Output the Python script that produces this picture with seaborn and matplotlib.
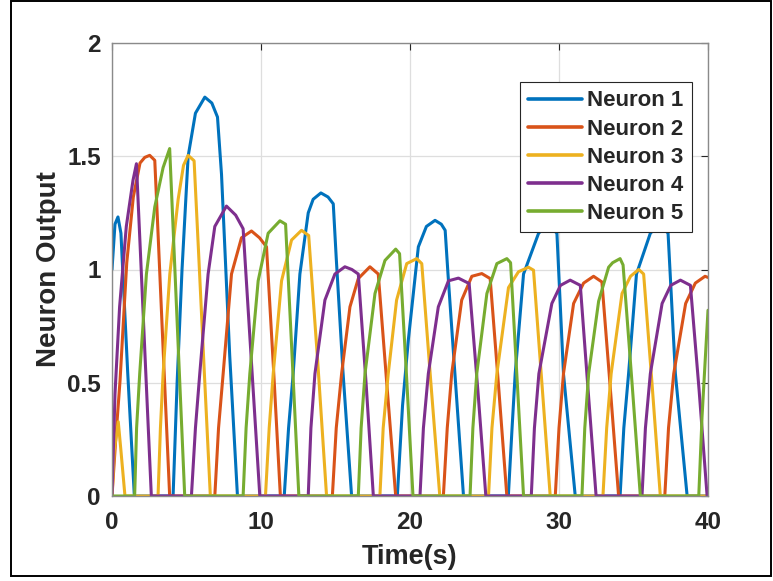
import matplotlib
matplotlib.use("Agg")
import matplotlib.pyplot as plt
import pandas as pd
import seaborn as sns
from matplotlib.patches import Rectangle

# ---- data (time in s, neuron output) ----
n1_t = [0, 0.2, 0.4, 0.6, 1.05, 1.5,
        4.1, 4.37, 4.7, 5.11, 5.6, 6.23, 6.7, 7.08, 7.35, 7.9, 8.42,
        11.56, 11.85, 12.16, 12.61, 13.17, 13.5, 14.02, 14.5, 14.85, 15.05, 15.5, 16.08,
        19.15, 19.5, 19.89, 20.56, 21.1, 21.68, 22.1, 22.36, 22.55, 22.95, 23.59,
        26.6, 26.85, 27.06, 27.62, 28.63, 29.25, 29.86, 30.3, 31.09,
        34.1, 34.35, 34.67, 35.2, 36.13, 36.75, 37.32, 37.81, 38.6, 40]
n1_y = [1.0, 1.2, 1.232, 1.16, 0.55, 0,
        0, 0.5, 1.0, 1.5, 1.69, 1.761, 1.735, 1.673, 1.42, 0.62, 0,
        0, 0.3, 0.54, 0.98, 1.25, 1.31, 1.338, 1.32, 1.29, 1.05, 0.55, 0,
        0, 0.4, 0.69, 1.1, 1.19, 1.217, 1.2, 1.173, 0.98, 0.6, 0,
        0, 0.3, 0.54, 0.98, 1.16, 1.2, 1.16, 0.54, 0,
        0, 0.3, 0.54, 0.98, 1.16, 1.2, 1.16, 0.54, 0, 0]

n2_t = [0, 0.25, 0.54, 0.99, 1.43, 1.88, 2.2, 2.53, 2.87, 3.05, 3.45, 3.87,
        6.9, 7.15, 7.46, 8.02, 8.69, 9.36, 9.9, 10.37, 10.85, 11.3,
        14.79, 15.05, 15.41, 15.97, 16.53, 17.31, 17.87, 18.45, 19.04,
        22.24, 22.5, 22.8, 23.47, 24.15, 24.82, 25.38, 25.95, 26.5,
        29.75, 30.0, 30.3, 30.98, 31.65, 32.32, 32.88, 33.45, 34.0,
        37.1, 37.35, 37.7, 38.5, 39.15, 39.8, 40]
n2_y = [0, 0.25, 0.51, 1.03, 1.32, 1.47, 1.495, 1.504, 1.482, 1.22, 0.62, 0,
        0, 0.3, 0.54, 0.98, 1.14, 1.17, 1.14, 1.10, 0.55, 0,
        0, 0.3, 0.54, 0.835, 0.96, 1.012, 0.98, 0.49, 0,
        0, 0.3, 0.54, 0.865, 0.97, 0.982, 0.96, 0.48, 0,
        0, 0.3, 0.54, 0.85, 0.94, 0.97, 0.945, 0.47, 0,
        0, 0.3, 0.54, 0.85, 0.94, 0.97, 0.965]

n3_t = [0, 0.15, 0.42, 0.6, 0.87,
        3.09, 3.25, 3.43, 3.88, 4.44, 4.8, 5.11, 5.51, 5.8, 6.2, 6.6,
        10.3, 10.55, 10.82, 11.38, 12.05, 12.72, 13.2, 13.8, 14.4,
        17.98, 18.2, 18.54, 19.1, 19.78, 20.45, 20.79, 21.4, 22.0,
        25.27, 25.5, 25.83, 26.61, 27.28, 27.95, 28.29, 28.85, 29.41,
        32.95, 33.2, 33.5, 34.23, 34.8, 35.35, 35.68, 36.25, 36.8, 40]
n3_y = [0, 0.2, 0.328, 0.2, 0,
        0, 0.3, 0.54, 0.98, 1.31, 1.46, 1.504, 1.48, 1.09, 0.54, 0,
        0, 0.3, 0.54, 0.95, 1.13, 1.173, 1.15, 0.6, 0,
        0, 0.3, 0.54, 0.865, 1.026, 1.048, 1.026, 0.5, 0,
        0, 0.3, 0.54, 0.92, 0.99, 1.01, 0.997, 0.5, 0,
        0, 0.3, 0.54, 0.894, 0.97, 1.0, 0.98, 0.49, 0, 0]

n4_t = [0, 0.2, 0.51, 0.96, 1.41, 1.64, 1.85, 2.25, 2.64,
        5.33, 5.6, 5.89, 6.45, 6.9, 7.68, 8.3, 8.8, 9.35, 9.92,
        13.17, 13.35, 13.62, 14.29, 14.96, 15.63, 16.1, 16.53, 17.05, 17.54,
        20.67, 20.9, 21.23, 21.9, 22.58, 23.25, 23.97, 24.55, 25.09,
        28.14, 28.35, 28.65, 29.52, 30.1, 30.75, 31.43, 31.95, 32.49,
        35.57, 35.8, 36.13, 36.92, 37.5, 38.15, 38.82, 39.4, 39.94, 40]
n4_y = [0, 0.45, 0.835, 1.19, 1.394, 1.467, 1.16, 0.57, 0,
        0, 0.3, 0.54, 0.98, 1.19, 1.28, 1.24, 1.18, 0.6, 0,
        0, 0.3, 0.54, 0.865, 0.98, 1.012, 1.0, 0.98, 0.5, 0,
        0, 0.3, 0.54, 0.835, 0.95, 0.962, 0.938, 0.47, 0,
        0, 0.3, 0.54, 0.85, 0.93, 0.953, 0.93, 0.47, 0,
        0, 0.3, 0.54, 0.85, 0.93, 0.953, 0.93, 0.47, 0, 0]

n5_t = [0, 1.52, 1.65, 1.86, 2.31, 2.87, 3.43, 3.87, 4.05, 4.45, 4.88,
        8.8, 9.0, 9.25, 9.81, 10.48, 11.27, 11.65, 12.1, 12.54,
        16.53, 16.72, 16.98, 17.65, 18.32, 19.04, 19.3, 19.75, 20.2,
        24.03, 24.22, 24.48, 25.16, 25.83, 26.5, 26.75, 27.2, 27.62,
        31.54, 31.73, 31.99, 32.66, 33.33, 33.6, 34.1, 34.3, 34.9, 35.46,
        39.38, 39.6, 40]
n5_y = [0, 0, 0.3, 0.54, 0.98, 1.276, 1.45, 1.534, 1.26, 0.65, 0,
        0, 0.3, 0.54, 0.95, 1.16, 1.215, 1.2, 0.6, 0,
        0, 0.3, 0.54, 0.894, 1.04, 1.09, 1.07, 0.55, 0,
        0, 0.3, 0.54, 0.894, 1.026, 1.048, 1.03, 0.5, 0,
        0, 0.3, 0.54, 0.86, 1.01, 1.03, 1.048, 1.02, 0.5, 0,
        0, 0.35, 0.82]

names = ["Neuron 1", "Neuron 2", "Neuron 3", "Neuron 4", "Neuron 5"]
colors = ["#0072BD", "#D95319", "#EDB120", "#7E2F8E", "#77AC30"]
x_ticks = [0, 10, 20, 30, 40]
y_ticks = [0, 0.5, 1, 1.5, 2]
y_tick_labels = ["0", "0.5", "1", "1.5", "2"]
x_label = "Time(s)"
y_label = "Neuron Output"

series_t = [n1_t, n2_t, n3_t, n4_t, n5_t]
series_y = [n1_y, n2_y, n3_y, n4_y, n5_y]
df = pd.concat(
    [pd.DataFrame({"Time": t, "Output": y, "Neuron": n})
     for n, t, y in zip(names, series_t, series_y)],
    ignore_index=True)

sns.set_style("white")
plt.rcParams["font.family"] = ["Liberation Sans", "DejaVu Sans"]
plt.rcParams["font.weight"] = "bold"

W, H = 773, 581
fig = plt.figure(figsize=(W / 100, H / 100), dpi=100)
ax = fig.add_axes([112 / W, (H - 496) / H, 596 / W, 453 / H])

sns.lineplot(data=df, x="Time", y="Output", hue="Neuron", hue_order=names,
             palette=colors, linewidth=2.2, estimator=None, sort=False, ax=ax)

ax.set_xlim(0, 40)
ax.set_ylim(0, 2)
ax.set_xticks(x_ticks)
ax.set_xticklabels([str(v) for v in x_ticks])
ax.set_yticks(y_ticks)
ax.set_yticklabels(y_tick_labels)
ax.grid(True, color="#dedede", linewidth=0.9)
ax.set_axisbelow(True)
for s in ax.spines.values():
    s.set_color("#8a8a8a")
    s.set_linewidth(1.0)
ax.tick_params(direction="in", top=True, right=True, length=5, width=0.8,
               color="#262626", labelsize=17.5)
ax.tick_params(axis="x", pad=11)
ax.tick_params(axis="y", pad=8)
for lab in ax.get_xticklabels() + ax.get_yticklabels():
    lab.set_fontweight("bold")
    lab.set_color("#262626")

ax.set_xlabel(x_label, fontsize=19.5, fontweight="bold", color="#262626")
ax.set_ylabel(y_label, fontsize=20, fontweight="bold", color="#262626")
ax.xaxis.set_label_coords(0.5, -0.106)
ax.yaxis.set_label_coords(-0.084, 0.5)

leg = ax.legend(loc="upper right", bbox_to_anchor=(0.973, 0.914),
                borderaxespad=0, fancybox=False, framealpha=1,
                edgecolor="#262626", prop={"weight": "bold", "size": 16},
                handlelength=2.4, handletextpad=0.25, labelspacing=0.32,
                borderpad=0.38, title=None)
leg.get_frame().set_linewidth(0.8)
for line in leg.get_lines():
    line.set_linewidth(2.6)

fig.patches.append(Rectangle((11 / W, 5 / H), 760 / W, 575 / H,
                             transform=fig.transFigure, fill=False,
                             edgecolor="black", linewidth=1.4))

fig.savefig("out.png", dpi=100)
